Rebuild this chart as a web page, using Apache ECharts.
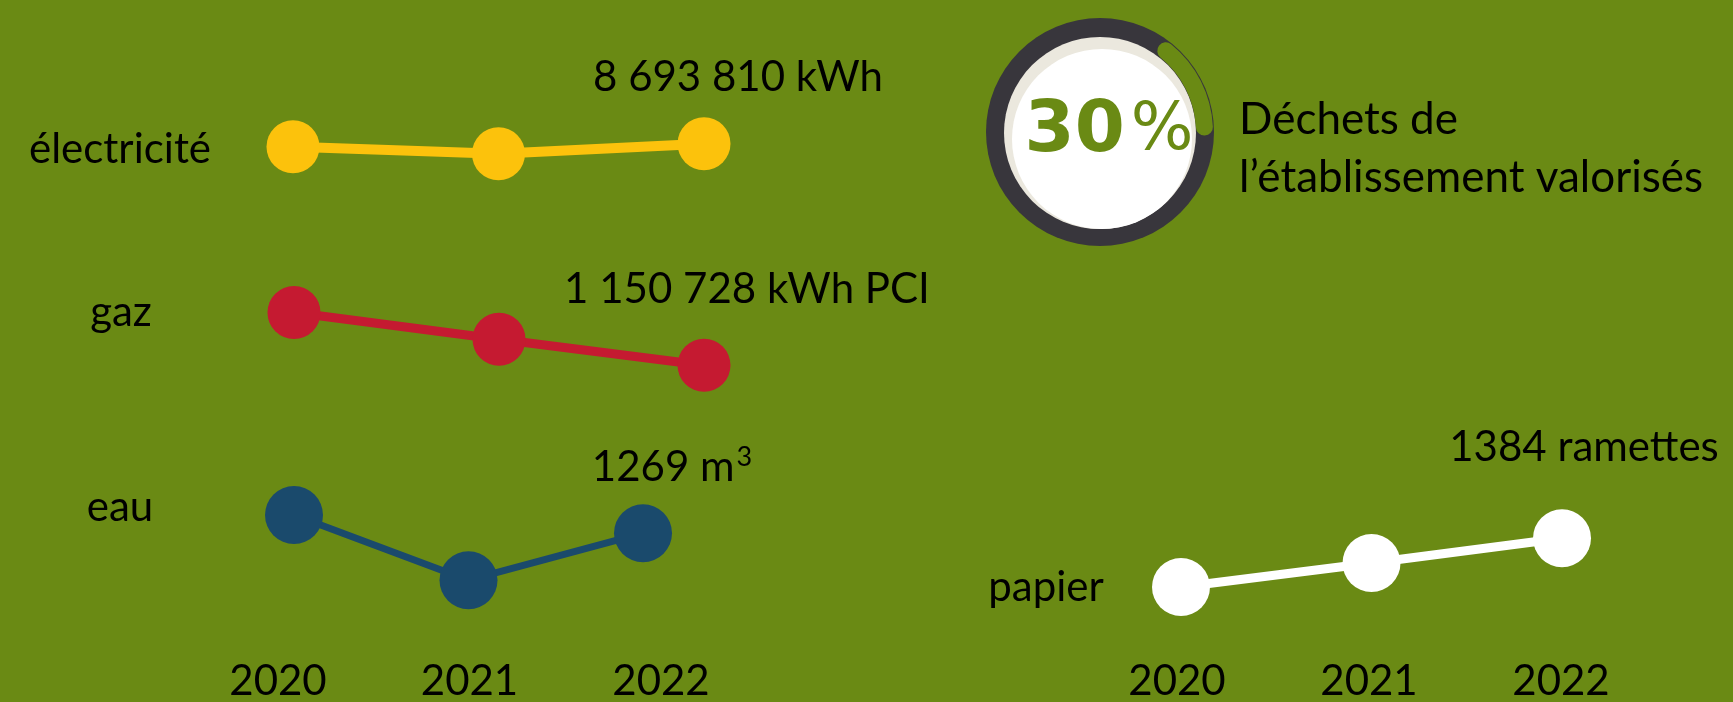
<!DOCTYPE html>
<html>
<head>
<meta charset="utf-8">
<script src="https://cdn.jsdelivr.net/npm/echarts@6/dist/echarts.min.js"></script>
<style>
html,body{margin:0;padding:0;background:#6a8a14;}
#chart{width:1733px;height:702px;}
</style>
</head>
<body>
<div id="chart"></div>
<script>
// ---- data ----
const years = ['2020', '2021', '2022'];
const electricite = [8570000, 8290000, 8693810];   // kWh
const gaz = [1362000, 1255000, 1150728];           // kWh PCI
const eau = [1360, 1034, 1269];                    // m3
const papier = [1140, 1260, 1384];                 // ramettes
const dechetsValorises = 30;                       // %

const lastLabels = ['8 693 810 kWh', '1 150 728 kWh PCI', '1269 m{sup|3}', '1384 ramettes'];
const rowNames = ['électricité', 'gaz', 'eau', 'papier'];
const wasteText = ['Déchets de', 'l’établissement valorisés'];

const BG = '#6a8a14';
const FONT = 'Lato';

const chart = echarts.init(document.getElementById('chart'));

function hiddenY(i, min, max) {
  return {type: 'value', gridIndex: i, min: min, max: max, show: false};
}
function hiddenX(i) {
  return {type: 'category', gridIndex: i, data: years, boundaryGap: false, show: false};
}
function yearAxis(i) {
  return {
    type: 'category', gridIndex: i, data: years, boundaryGap: false,
    axisLine: {show: false}, axisTick: {show: false}, splitLine: {show: false},
    axisLabel: {show: true, interval: 0, margin: 25, verticalAlign: 'middle',
      color: '#000', fontFamily: FONT, fontSize: 42}
  };
}
function lineSeries(idx, data, color, size, width, label, off) {
  return {
    type: 'line', xAxisIndex: idx, yAxisIndex: idx, data: data,
    symbol: 'circle', symbolSize: size, showSymbol: true,
    lineStyle: {color: color, width: width},
    itemStyle: {color: color},
    label: {
      show: true, position: 'inside', offset: off,
      color: '#000', fontFamily: FONT, fontSize: 42,
      formatter: p => p.dataIndex === data.length - 1 ? label : '',
      rich: {
        sup: {fontFamily: FONT, fontSize: 27, color: '#000', padding: [0, 0, 20, 2]}
      }
    },
    emphasis: {disabled: true},
    silent: true
  };
}

const option = {
  backgroundColor: BG,
  animation: false,
  textStyle: {fontFamily: FONT},
  grid: [
    {left: 293, width: 411, top: 111, height: 75},   // électricité
    {left: 294, width: 410, top: 278, height: 125},  // gaz
    {left: 294, width: 349, top: 487, height: 120},  // eau
    {left: 1181, width: 381, top: 515, height: 100}, // papier
    {left: 278, width: 383, top: 600, height: 60},   // years left
    {left: 1177, width: 384, top: 600, height: 60}   // years right
  ],
  xAxis: [hiddenX(0), hiddenX(1), hiddenX(2), hiddenX(3), yearAxis(4), yearAxis(5)],
  yAxis: [
    hiddenY(0, 7000000, 10000000),
    hiddenY(1, 1000000, 1500000),
    hiddenY(2, 900, 1500),
    hiddenY(3, 1000, 1500),
    {type: 'value', gridIndex: 4, show: false},
    {type: 'value', gridIndex: 5, show: false}
  ],
  series: [
    lineSeries(0, electricite, '#fcc20c', 53, 10, lastLabels[0], [34, -66]),
    lineSeries(1, gaz, '#c51a31', 53, 9, lastLabels[1], [43, -76]),
    lineSeries(2, eau, '#1a4a6c', 58, 7, lastLabels[2], [29, -66]),
    lineSeries(3, papier, '#ffffff', 58, 9, lastLabels[3], [22, -91]),
    // donut: dark ring
    {type: 'pie', z: 2, center: [1100, 132], radius: [0, 114], silent: true,
     label: {show: false}, labelLine: {show: false},
     itemStyle: {color: '#38363c'}, data: [{value: 1}]},
    {type: 'pie', z: 3, center: [1100, 133], radius: [0, 96], silent: true,
     label: {show: false}, labelLine: {show: false},
     itemStyle: {color: '#ebe8de'}, data: [{value: 1}]},
    {type: 'pie', z: 4, center: [1102, 139], radius: [0, 90], silent: true,
     label: {show: false}, labelLine: {show: false},
     itemStyle: {color: '#ffffff'}, data: [{value: 1}]},
    {
      type: 'gauge', z: 10, center: [1100, 132], radius: 113,
      startAngle: 51, endAngle: -110, min: 0, max: 100,
      silent: true,
      progress: {show: false},
      axisLine: {show: true, roundCap: true, lineStyle: {width: 17,
        color: [[dechetsValorises / 100, BG], [1, 'rgba(0,0,0,0)']]}},
      axisTick: {show: false}, splitLine: {show: false}, axisLabel: {show: false},
      pointer: {show: false}, anchor: {show: false}, title: {show: false},
      detail: {
        show: true, offsetCenter: [9, 0], valueAnimation: false,
        formatter: v => '{a|' + v + '}{b|%}',
        rich: {
          a: {fontFamily: 'DejaVu Sans', fontWeight: 'bold', fontSize: 72, color: BG, padding: [0, 6, 0, 0]},
          b: {fontFamily: 'DejaVu Sans', fontWeight: 'normal', fontSize: 66, color: BG}
        }
      },
      data: [{value: dechetsValorises}]
    }
  ],
  graphic: [
    {type: 'text', x: 120, y: 149, style: {text: rowNames[0], fill: '#000', font: '42px Lato', textAlign: 'center', textVerticalAlign: 'middle'}},
    {type: 'text', x: 121, y: 312, style: {text: rowNames[1], fill: '#000', font: '42px Lato', textAlign: 'center', textVerticalAlign: 'middle'}},
    {type: 'text', x: 120, y: 507, style: {text: rowNames[2], fill: '#000', font: '42px Lato', textAlign: 'center', textVerticalAlign: 'middle'}},
    {type: 'text', x: 1046, y: 587, style: {text: rowNames[3], fill: '#000', font: '42px Lato', textAlign: 'center', textVerticalAlign: 'middle'}},
    {type: 'text', x: 1239, y: 120, style: {text: wasteText[0], fill: '#000', font: '44px Lato', textAlign: 'left', textVerticalAlign: 'middle'}},
    {type: 'text', x: 1239, y: 178, style: {text: wasteText[1], fill: '#000', font: '44px Lato', textAlign: 'left', textVerticalAlign: 'middle'}}
  ]
};
chart.setOption(option);
</script>
</body>
</html>
